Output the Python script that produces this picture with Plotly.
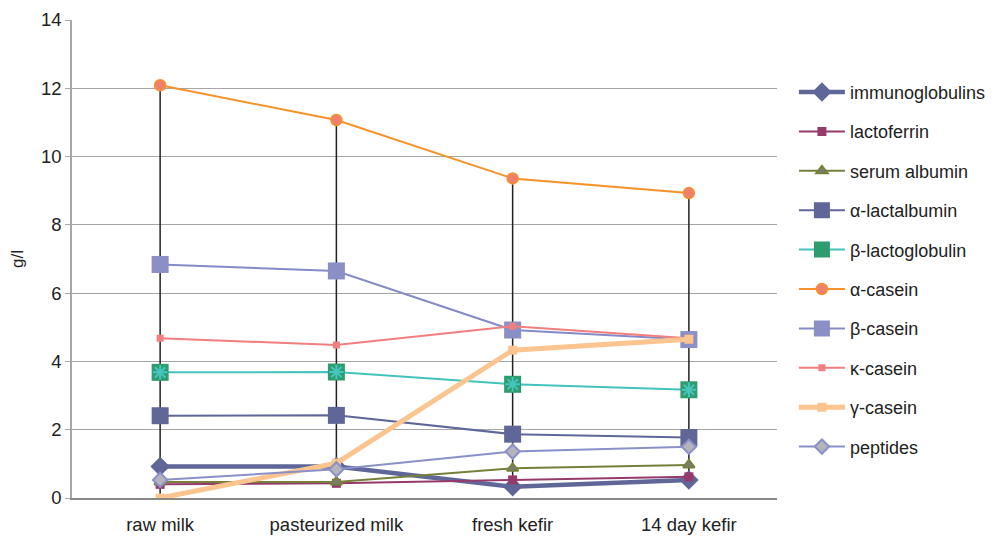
import plotly.graph_objects as go

categories = ["raw milk", "pasteurized milk", "fresh kefir", "14 day kefir"]

immunoglobulins = [0.92, 0.92, 0.33, 0.53]
lactoferrin = [0.40, 0.43, 0.53, 0.62]
serum_albumin = [0.47, 0.47, 0.87, 0.97]
alpha_lactalbumin = [2.41, 2.42, 1.87, 1.77]
beta_lactoglobulin = [3.68, 3.69, 3.33, 3.17]
alpha_casein = [12.09, 11.07, 9.36, 8.93]
beta_casein = [6.84, 6.65, 4.92, 4.64]
kappa_casein = [4.68, 4.48, 5.03, 4.68]
gamma_casein = [0.0, 1.02, 4.33, 4.65]
peptides = [0.53, 0.84, 1.36, 1.50]

y_ticks = [0, 2, 4, 6, 8, 10, 12, 14]

series = [
    ("immunoglobulins", immunoglobulins, dict(color="#5f6798", width=4.5),
     dict(symbol="diamond", size=15, color="#5f6798")),
    ("lactoferrin", lactoferrin, dict(color="#953a6b", width=2),
     dict(symbol="square", size=9, color="#953a6b")),
    ("serum albumin", serum_albumin, dict(color="#77803a", width=2),
     dict(symbol="triangle-up", size=10, color="#7a7a7a", line=dict(color="#77803a", width=2))),
    ("α-lactalbumin", alpha_lactalbumin, dict(color="#5f6798", width=2),
     dict(symbol="square", size=17, color="#5f6798")),
    ("β-lactoglobulin", beta_lactoglobulin, dict(color="#43c3be", width=2),
     dict(symbol="square", size=17, color="#2f9c70")),
    ("α-casein", alpha_casein, dict(color="#f7922a", width=2),
     dict(symbol="circle", size=11, color="#f0806e", line=dict(color="#f7922a", width=1.5))),
    ("β-casein", beta_casein, dict(color="#848bc6", width=2),
     dict(symbol="square", size=17, color="#8a8fc6")),
    ("κ-casein", kappa_casein, dict(color="#f27e7e", width=2),
     dict(symbol="square", size=7, color="#f08080")),
    ("γ-casein", gamma_casein, dict(color="#fcc48e", width=5),
     dict(symbol="square", size=9, color="#fcc48e")),
    ("peptides", peptides, dict(color="#8a90c8", width=2),
     dict(symbol="diamond", size=11, color="#b4b4bc", line=dict(color="#8a90c8", width=2))),
]

fig = go.Figure()

# high-low lines at each category (min to max of all series)
all_vals = [s[1] for s in series]
hx, hy = [], []
for i, c in enumerate(categories):
    col = [v[i] for v in all_vals]
    hx += [c, c, None]
    hy += [min(col), max(col), None]
fig.add_trace(go.Scatter(x=hx, y=hy, mode="lines", line=dict(color="#222222", width=1.5),
                         showlegend=False, hoverinfo="skip"))

for i, (name, vals, line, marker) in enumerate(series):
    fig.add_trace(go.Scatter(x=categories, y=vals, name=name, mode="lines+markers",
                             line=line, marker=marker, legendgroup=f"g{i}"))
    if name == "β-lactoglobulin":
        # teal asterisk drawn over the green square markers
        fig.add_trace(go.Scatter(x=categories, y=vals, mode="markers", showlegend=False,
                                 legendgroup=f"g{i}", hoverinfo="skip",
                                 marker=dict(symbol="asterisk-open", size=12, color="#45c6c0",
                                             line=dict(color="#45c6c0", width=2))))

fig.update_layout(
    width=985, height=528,
    margin=dict(l=64, r=216, t=12, b=38, autoexpand=False),
    paper_bgcolor="white", plot_bgcolor="white",
    font=dict(family="Liberation Sans, Arial, sans-serif", color="#222222", size=18.5),
    legend=dict(x=1.024, y=0.8875, xanchor="left", yanchor="top",
                font=dict(size=18), tracegroupgap=13, itemwidth=46,
                bgcolor="rgba(0,0,0,0)"),
    showlegend=True,
)
fig.update_xaxes(type="category", range=[-0.5, 3.5], showgrid=False,
                 showline=True, linecolor="#888888", linewidth=1.5,
                 tickfont=dict(size=18.5), ticks="outside", ticklen=9,
                 tickcolor="rgba(0,0,0,0)", automargin=False)
fig.update_yaxes(range=[0, 14], tickvals=y_ticks, ticktext=[str(t) for t in y_ticks],
                 showgrid=True, gridcolor="#a6a6a6", gridwidth=1.2,
                 showline=True, linecolor="#a6a6a6", linewidth=1.5,
                 ticks="outside", ticklen=5, tickcolor="#a6a6a6",
                 tickfont=dict(size=18.5), zeroline=False, automargin=False,
                 title=dict(text="g/l", font=dict(size=17), standoff=14))

fig.write_html("out.html")
